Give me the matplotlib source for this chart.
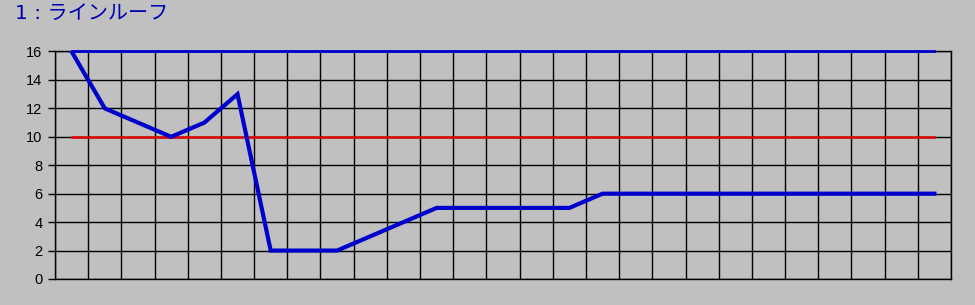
import matplotlib
matplotlib.use("Agg")
import matplotlib.pyplot as plt
import numpy as np

# data
values = [16, 12, 11, 10, 11, 13, 2, 2, 2, 3, 4, 5, 5, 5, 5, 5,
          6, 6, 6, 6, 6, 6, 6, 6, 6, 6, 6]
upper = [16] * len(values)
limit = [10] * len(values)
yticks = [0, 2, 4, 6, 8, 10, 12, 14, 16]
title = "1 : ラインルーフ"

bg = "#c0c0c0"
fig = plt.figure(figsize=(9.75, 3.05), dpi=100, facecolor=bg)
ax = fig.add_axes([55 / 975, 26 / 305, 896 / 975, 227.5 / 305])
ax.set_facecolor(bg)

x = np.arange(len(values))
ax.plot(x, upper, color="#0000cc", lw=2.0, zorder=3, clip_on=False)
ax.plot(x, limit, color="#e00000", lw=1.8, zorder=3)
ax.plot(x, values, color="#0000cc", lw=3.0, zorder=4, solid_joinstyle="miter")

ax.set_xlim(-0.5, len(values) - 0.5)
ax.set_ylim(0, 16)
ax.set_xticks(np.arange(len(values) + 1) - 0.5)
ax.set_xticklabels([])
ax.tick_params(axis="x", length=0)
ax.set_yticks(yticks)
ax.set_yticklabels([str(v) for v in yticks], fontsize=10.5, family="Liberation Sans")
ax.tick_params(axis="y", length=5, width=1.0, color="black", pad=4)
ax.grid(True, color="black", lw=1.0, zorder=1)
ax.set_axisbelow(True)
for s in ax.spines.values():
    s.set_color("black")
    s.set_linewidth(1.0)

# DejaVu first so the "1 : " part keeps its wider spacing, kana fall back to Noto CJK
fig.text(15 / 975, 1 - 4 / 305, title, color="#0000b0", fontsize=14.5,
         family=["DejaVu Sans", "Noto Sans CJK JP"], va="top", ha="left")

fig.savefig("out.png", dpi=100, facecolor=bg)
